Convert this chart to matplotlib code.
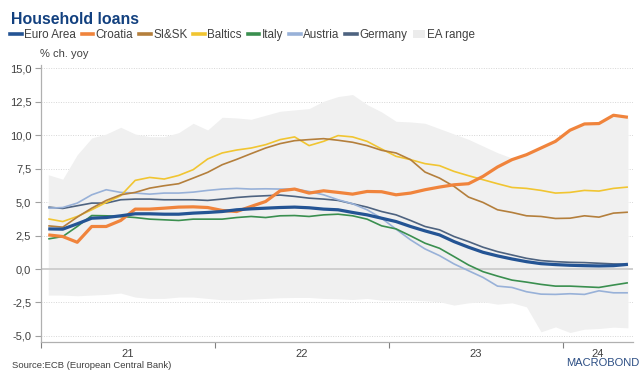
import numpy as np
import matplotlib
matplotlib.use("Agg")
import matplotlib.pyplot as plt
from matplotlib.lines import Line2D
from matplotlib.patches import Patch

plt.rcParams['font.family'] = ['Liberation Sans', 'DejaVu Sans']

# Monthly observations, Jan 2021 .. May 2024 (41 months)
months = [f"{y}-{m:02d}" for y in (2021, 2022, 2023, 2024) for m in range(1, 13)][:41]
year_labels = ["21", "22", "23", "24"]
y_ticks = [-5.0, -2.5, 0.0, 2.5, 5.0, 7.5, 10.0, 12.5, 15.0]

euro_area = [3.0, 2.98, 3.38, 3.8, 3.85, 3.98, 4.13, 4.13, 4.1, 4.1, 4.18, 4.23, 4.3, 4.43,
             4.5, 4.55, 4.6, 4.63, 4.58, 4.48, 4.43, 4.23, 4.05, 3.8, 3.55, 3.18, 2.85,
             2.55, 2.05, 1.63, 1.25, 0.98, 0.75, 0.55, 0.4, 0.33, 0.28, 0.25, 0.23, 0.25, 0.35]
croatia = [2.55, 2.43, 2.0, 3.18, 3.18, 3.63, 4.48, 4.48, 4.55, 4.63, 4.65, 4.6, 4.38, 4.3,
           4.68, 5.05, 5.85, 5.98, 5.68, 5.85, 5.73, 5.6, 5.8, 5.78, 5.55, 5.68, 5.93,
           6.13, 6.3, 6.38, 6.93, 7.63, 8.18, 8.55, 9.05, 9.55, 10.38, 10.85, 10.88, 11.5, 11.35]
si_sk = [3.23, 3.13, 3.88, 4.55, 5.13, 5.55, 5.73, 6.05, 6.23, 6.38, 6.8, 7.23, 7.8, 8.2,
         8.63, 9.05, 9.38, 9.6, 9.68, 9.75, 9.63, 9.48, 9.23, 8.88, 8.68, 8.18, 7.25,
         6.8, 6.18, 5.38, 4.98, 4.43, 4.23, 3.98, 3.93, 3.78, 3.8, 3.98, 3.88, 4.18, 4.25]
baltics = [3.75, 3.55, 3.93, 4.43, 4.98, 5.48, 6.63, 6.85, 6.73, 7.0, 7.43, 8.23, 8.68, 8.9,
           9.05, 9.3, 9.68, 9.88, 9.23, 9.55, 9.98, 9.88, 9.55, 8.98, 8.43, 8.18, 7.88,
           7.73, 7.3, 6.98, 6.68, 6.38, 6.1, 6.03, 5.88, 5.68, 5.73, 5.88, 5.83, 6.03, 6.13]
italy = [2.25, 2.43, 3.18, 4.0, 3.98, 3.93, 3.85, 3.73, 3.68, 3.63, 3.73, 3.73, 3.73, 3.85,
         3.93, 3.85, 3.98, 4.0, 3.93, 4.05, 4.1, 3.98, 3.73, 3.23, 3.0, 2.48, 1.93,
         1.55, 0.93, 0.3, -0.2, -0.53, -0.83, -0.98, -1.15, -1.28, -1.28, -1.33, -1.38, -1.2, -1.03]
austria = [4.55, 4.6, 4.93, 5.55, 5.93, 5.73, 5.68, 5.6, 5.68, 5.68, 5.75, 5.88, 5.98, 6.03,
           5.98, 6.0, 5.98, 5.98, 5.8, 5.55, 5.18, 4.88, 4.43, 3.8, 2.98, 2.18, 1.5,
           1.0, 0.38, -0.13, -0.63, -1.28, -1.38, -1.7, -1.88, -1.9, -1.85, -1.9, -1.63, -1.78, -1.78]
germany = [4.63, 4.53, 4.73, 4.93, 4.93, 5.18, 5.23, 5.23, 5.18, 5.18, 5.18, 5.13, 5.23, 5.35,
           5.43, 5.48, 5.53, 5.43, 5.3, 5.23, 5.13, 4.88, 4.63, 4.3, 4.05, 3.63, 3.18,
           2.93, 2.43, 2.05, 1.63, 1.3, 1.05, 0.8, 0.63, 0.55, 0.5, 0.48, 0.43, 0.38, 0.35]
ea_upper = [7.05, 6.72, 8.55, 9.8, 10.1, 10.6, 10.1, 9.9, 9.9, 10.2, 10.9, 10.4, 11.35, 11.3,
            11.2, 11.5, 11.8, 11.9, 12.0, 12.55, 12.9, 13.05, 12.3, 11.75, 11.05, 11.0, 10.9,
            10.5, 10.1, 9.7, 9.2, 8.7, 8.3, 8.55, 9.05, 9.55, 10.38, 10.85, 10.88, 11.5, 11.35]
ea_lower = [-1.95, -1.95, -2.0, -1.95, -1.9, -1.8, -2.1, -2.2, -2.2, -2.1, -2.1, -2.2, -2.3, -2.3,
            -2.25, -2.2, -2.15, -2.13, -2.13, -2.2, -2.23, -2.28, -2.2, -2.33, -2.33, -2.33, -2.38,
            -2.45, -2.7, -2.53, -2.45, -2.63, -2.53, -2.83, -4.7, -4.33, -4.75, -4.5, -4.45, -4.35, -4.4]

series = [
    ("Euro Area", euro_area, "#245494", 2.3),
    ("Croatia", croatia, "#f0843c", 2.3),
    ("SI&SK", si_sk, "#b47f3c", 1.2),
    ("Baltics", baltics, "#f1c531", 1.2),
    ("Italy", italy, "#3a8f4f", 1.2),
    ("Austria", austria, "#98b1d8", 1.2),
    ("Germany", germany, "#4e6380", 1.2),
]

W, H = 639, 371
fig = plt.figure(figsize=(W / 100, H / 100), dpi=100)
ax = fig.add_axes([41 / W, 1 - 342 / H, (633 - 41) / W, (342 - 65) / H])

x = np.arange(len(months)) + 0.5

ax.fill_between(x, ea_lower, ea_upper, color="#f0f0f0", lw=0, zorder=1)
ax.axhline(0, color="#cfcfcf", lw=1.4, zorder=2)

for name, vals, col, lw in reversed(series):
    ax.plot(x, vals, color=col, lw=lw, zorder=3, solid_capstyle="butt")

ax.set_xlim(0, 40.85)
ax.set_ylim(-5.46, 15.26)

for v in y_ticks:
    if v != 0:
        ax.axhline(v, color="#d6d6d6", lw=0.7, ls=(0, (1, 1.5)), zorder=0.5)

ax.set_yticks(y_ticks)
ax.set_yticklabels([f"{v:.1f}".replace(".", ",") for v in y_ticks])
ax.tick_params(axis="y", direction="out", length=4, width=0.8, color="#a0a0a0",
               labelsize=8, labelcolor="#404040", pad=3)

ax.set_xticks([0, 12, 24, 36])
ax.set_xticklabels([])
ax.set_xticks([6, 18, 30, 38.42], minor=True)
ax.set_xticklabels(year_labels, minor=True)
ax.tick_params(axis="x", which="major", direction="out", length=4, width=0.8, color="#808080")
ax.tick_params(axis="x", which="minor", length=0, labelsize=8, labelcolor="#404040", pad=5)

for s in ("top", "right"):
    ax.spines[s].set_visible(False)
for s in ("left", "bottom"):
    ax.spines[s].set_color("#b0b0b0")
    ax.spines[s].set_linewidth(0.9)

fig.text(11 / W, 1 - 20 / H, "Household loans", fontsize=11.4, fontweight="bold",
         color="#12407f", va="center", ha="left")

leg_handles = [Line2D([], [], color=col, lw=2.6) for _, _, col, _ in series]
leg_handles.append(Patch(facecolor="#ececec", edgecolor="none"))
leg_labels = [n for n, _, _, _ in series] + ["EA range"]
fig.legend(leg_handles, leg_labels, loc="center left", bbox_to_anchor=(10 / W, 1 - 35 / H),
           ncol=8, frameon=False, fontsize=8.4, handlelength=1.0, handletextpad=0.2,
           columnspacing=0.5, borderaxespad=0, borderpad=0, labelcolor="#404040",
           handleheight=0.6)

fig.text(40 / W, 1 - 54 / H, "% ch. yoy", fontsize=8, color="#404040", va="center", ha="left")
fig.text(12 / W, 1 - 361 / H, "Source:ECB (European Central Bank)", fontsize=6.8,
         color="#404040", va="top", ha="left")
fig.text(566 / W, 1 - 358 / H, "MACROBOND", fontsize=8, color="#2c4e84", va="top", ha="left")

fig.savefig("out.png", dpi=100)
